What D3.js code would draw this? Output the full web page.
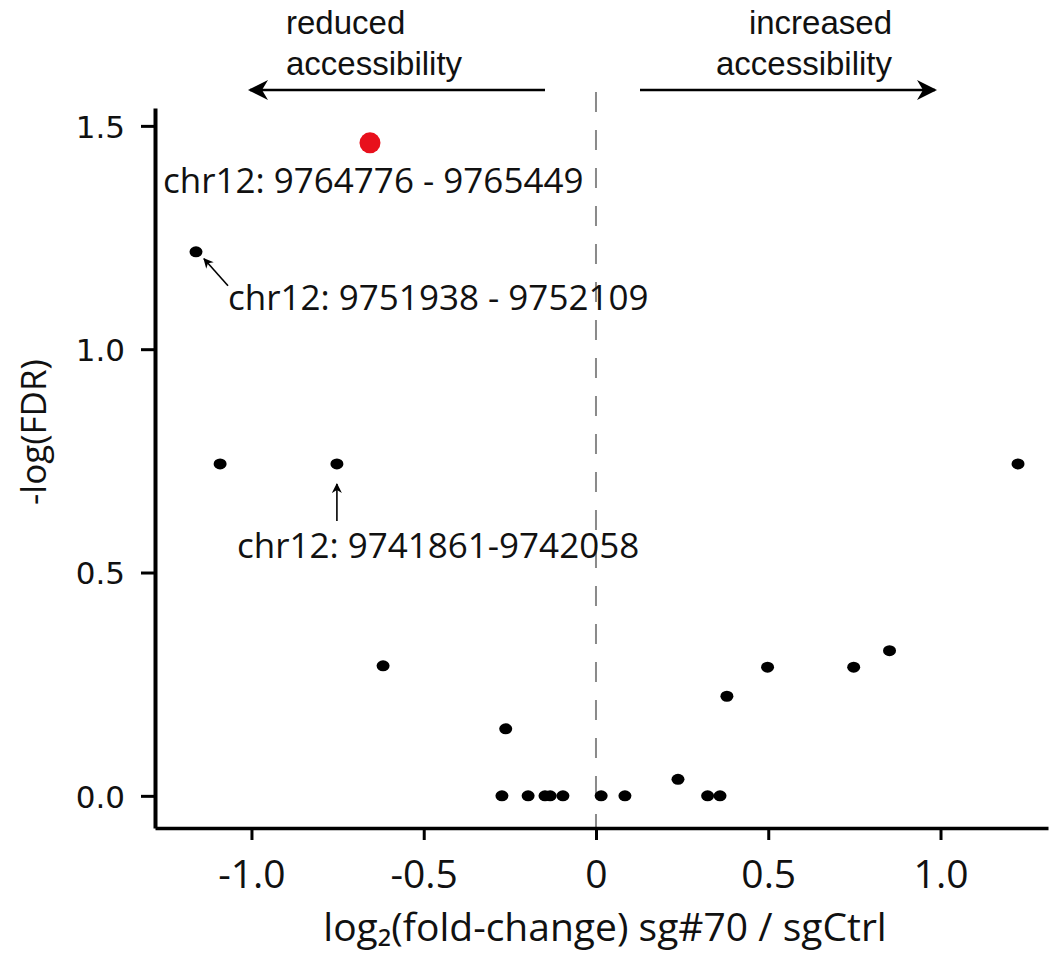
<!DOCTYPE html>
<html><head><meta charset="utf-8">
<script src="https://cdn.jsdelivr.net/npm/d3@7"></script>
<style>html,body{margin:0;padding:0;background:#fff;}svg{display:block;}</style>
</head><body>
<script>
// ---- data ----
const log2FC = [-0.656, -1.161, -1.091, -0.752, 1.225, -0.618, -0.262, -0.273, -0.197, -0.148, -0.133, -0.096, 0.015, 0.084, 0.238, 0.324, 0.360, 0.380, 0.498, 0.748, 0.852];
const negLogFDR = [1.462, 1.218, 0.743, 0.743, 0.743, 0.291, 0.150, 0, 0, 0, 0, 0, 0, 0, 0.037, 0, 0, 0.223, 0.288, 0.288, 0.325];
const highlighted = [0];            // index of the red point
const xTickValues = [-1.0, -0.5, 0, 0.5, 1.0];
const xTickLabels = ["-1.0", "-0.5", "0", "0.5", "1.0"];
const yTickValues = [0, 0.5, 1.0, 1.5];
const yTickLabels = ["0.0", "0.5", "1.0", "1.5"];
const annotLabels = ["chr12: 9764776 - 9765449", "chr12: 9751938 - 9752109", "chr12: 9741861-9742058"];
const annotPoints = [0, 1, 3];
const xTitle = "log\u2082(fold-change) sg#70 / sgCtrl";
const yTitle = "-log(FDR)";

const W = 1050, H = 955;
const svg = d3.select("body").append("svg").attr("width", W).attr("height", H);
const defs = svg.append("defs");
function marker(id, w, h) {
  defs.append("marker").attr("id", id).attr("viewBox", "0 0 10 10").attr("refX", 9).attr("refY", 5)
    .attr("markerWidth", w).attr("markerHeight", h).attr("markerUnits", "userSpaceOnUse").attr("orient", "auto")
    .append("path").attr("d", "M0,0 L10,5 L0,10 L3,5 Z").attr("fill", "#000");
}
marker("bigArrow", 20, 20);
marker("smallArrow", 11, 10);

const x = d3.scaleLinear().domain([-1.28, 1.312]).range([155, 1048]);
const y = d3.scaleLinear().domain([-0.072, 1.54]).range([828, 108]);

const numFont = "'Open Sans', 'Noto Sans', sans-serif";

// dashed zero line
svg.append("line").attr("x1", x(0)).attr("x2", x(0)).attr("y1", 92).attr("y2", y.range()[0])
  .attr("stroke", "#8a8a8a").attr("stroke-width", 2).attr("stroke-dasharray", "20,18");

// x axis
const xAxis = d3.axisBottom(x).tickValues(xTickValues).tickFormat((d, i) => xTickLabels[i]).tickSize(12).tickSizeOuter(0);
const gx = svg.append("g").attr("transform", `translate(0,${y.range()[0]})`).call(xAxis);
gx.select(".domain").attr("stroke", "#000").attr("stroke-width", 3.5);
gx.selectAll(".tick line").attr("stroke", "#000").attr("stroke-width", 3);
gx.selectAll(".tick text").attr("font-family", numFont).attr("font-size", 39).attr("fill", "#111").attr("y", 24).attr("dy", "0.92em");

// y axis
const yAxis = d3.axisLeft(y).tickValues(yTickValues).tickFormat((d, i) => yTickLabels[i]).tickSize(14).tickSizeOuter(0);
const gy = svg.append("g").attr("transform", `translate(${x.range()[0]},0)`).call(yAxis);
gy.select(".domain").attr("stroke", "#000").attr("stroke-width", 4);
gy.selectAll(".tick line").attr("stroke", "#000").attr("stroke-width", 3);
gy.selectAll(".tick text").attr("font-family", "'DejaVu Sans', sans-serif").attr("font-size", 31).attr("fill", "#111").attr("x", -30).attr("dy", "0.36em");

// points
const pts = log2FC.map((v, i) => ({fc: v, q: negLogFDR[i], hi: highlighted.includes(i)}));
svg.append("g").selectAll("ellipse").data(pts.filter(p => !p.hi)).join("ellipse")
  .attr("cx", d => x(d.fc)).attr("cy", d => y(d.q)).attr("rx", 6.5).attr("ry", 5.5).attr("fill", "#000");
svg.append("g").selectAll("circle").data(pts.filter(p => p.hi)).join("circle")
  .attr("cx", d => x(d.fc)).attr("cy", d => y(d.q)).attr("r", 10.5).attr("fill", "#e8101c");

// annotations
const annFont = "'Open Sans', 'Noto Sans', sans-serif";
const annSize = 35;
const a0 = pts[annotPoints[0]], a1 = pts[annotPoints[1]], a2 = pts[annotPoints[2]];
svg.append("text").attr("x", x(a0.fc) - 207).attr("y", y(a0.q) + 50).text(annotLabels[0])
  .attr("font-family", annFont).attr("font-size", annSize).attr("fill", "#111");
svg.append("text").attr("x", x(a1.fc) + 32).attr("y", y(a1.q) + 58).text(annotLabels[1])
  .attr("font-family", annFont).attr("font-size", annSize).attr("fill", "#111");
svg.append("line").attr("x1", x(a1.fc) + 32).attr("y1", y(a1.q) + 34).attr("x2", x(a1.fc) + 8).attr("y2", y(a1.q) + 7)
  .attr("stroke", "#000").attr("stroke-width", 1.6).attr("marker-end", "url(#smallArrow)");
svg.append("text").attr("x", x(a2.fc) - 100).attr("y", y(a2.q) + 94).text(annotLabels[2])
  .attr("font-family", annFont).attr("font-size", annSize).attr("fill", "#111");
svg.append("line").attr("x1", x(a2.fc)).attr("y1", y(a2.q) + 57).attr("x2", x(a2.fc)).attr("y2", y(a2.q) + 20)
  .attr("stroke", "#000").attr("stroke-width", 1.6).attr("marker-end", "url(#smallArrow)");

// top direction labels
const topFont = "'Liberation Sans', Arial, sans-serif";
const tl = svg.append("text").attr("font-family", topFont).attr("font-size", 33).attr("fill", "#111");
tl.append("tspan").attr("x", 286).attr("y", 34).text("reduced");
tl.append("tspan").attr("x", 286).attr("y", 75).text("accessibility");
const tr = svg.append("text").attr("font-family", topFont).attr("font-size", 33).attr("fill", "#111").attr("text-anchor", "end");
tr.append("tspan").attr("x", 892).attr("y", 34).text("increased");
tr.append("tspan").attr("x", 892).attr("y", 75).text("accessibility");
svg.append("line").attr("x1", 545).attr("y1", 90).attr("x2", 250).attr("y2", 90)
  .attr("stroke", "#000").attr("stroke-width", 2.5).attr("marker-end", "url(#bigArrow)");
svg.append("line").attr("x1", 640).attr("y1", 90).attr("x2", 935).attr("y2", 90)
  .attr("stroke", "#000").attr("stroke-width", 2.5).attr("marker-end", "url(#bigArrow)");

// axis titles
svg.append("text").attr("x", 605).attr("y", 941).attr("text-anchor", "middle")
  .attr("font-family", annFont).attr("font-size", 39).attr("fill", "#111").text(xTitle);
svg.append("text").attr("transform", `translate(46,432) rotate(-90)`)
  .attr("text-anchor", "middle").attr("font-family", annFont).attr("font-size", 35).attr("fill", "#111").text(yTitle);
</script>
</body></html>
